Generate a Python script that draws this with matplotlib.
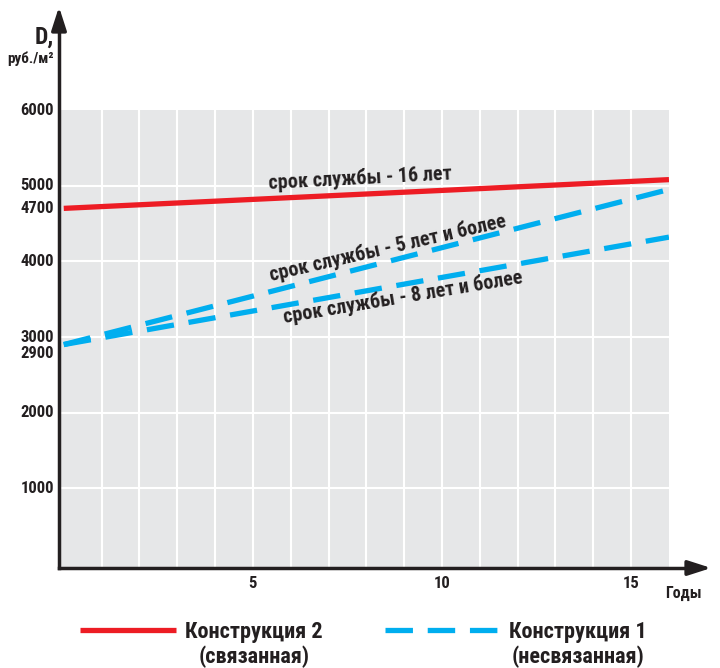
import matplotlib
matplotlib.use("Agg")
import matplotlib.pyplot as plt
import matplotlib.transforms as mtransforms
from matplotlib.lines import Line2D
from matplotlib import font_manager

available = set(f.name for f in font_manager.fontManager.ttflist)
candidates = ['Roboto Condensed', 'PT Sans Narrow', 'Fira Sans Condensed', 'Archivo Narrow',
              'IBM Plex Sans Condensed', 'Liberation Sans Narrow', 'Open Sans Condensed', 'Roboto']
chosen = [c for c in candidates if c in available]
FONT = chosen[0] if chosen else 'DejaVu Sans'
plt.rcParams['font.family'] = [FONT, 'DejaVu Sans']
plt.rcParams['font.weight'] = 'bold'

# Data
years = [0, 16]
construction2 = [4700, 5080]          # срок службы - 16 лет
construction1_5 = [2900, 4950]        # срок службы - 5 лет и более
construction1_8 = [2900, 4320]        # срок службы - 8 лет и более
y_ticks = [1000, 2000, 2900, 3000, 4000, 4700, 5000, 6000]
x_ticks = [5, 10, 15]

RED = '#ED1C24'
BLUE = '#00AEEF'
TXT = '#231F20'
BG = '#E6E7E8'

fig = plt.figure(figsize=(7.2, 6.68), dpi=100)
ax = fig.add_axes([0.0833, 0.1497, 0.8458, 0.6856])
ax.set_facecolor(BG)
ax.set_xlim(-0.1, 16)
ax.set_ylim(-53, 6000)

for x in range(1, 16):
    ax.axvline(x, color='white', lw=1.5, zorder=1)
for y in [1000, 2000, 3000, 4000, 5000]:
    ax.axhline(y, color='white', lw=1.5, zorder=1)

ax.plot(years, construction2, color=RED, lw=3.8, solid_capstyle='butt', zorder=3)
ax.plot(years, construction1_5, color=BLUE, lw=3.8, dashes=(5.2, 2.8), dash_capstyle='butt', zorder=3)
ax.plot(years, construction1_8, color=BLUE, lw=3.8, dashes=(5.2, 2.8), dash_capstyle='butt', zorder=3)

for s in ['top', 'right', 'left', 'bottom']:
    ax.spines[s].set_visible(False)

# y tick labels drawn by hand so that 2900 can sit a little below 3000, as in the reference
ax.set_yticks([])
ax.set_xticks(x_ticks)
ax.set_xticklabels([str(v) for v in x_ticks], fontsize=12, color=TXT, fontweight='bold')
ax.tick_params(length=0, pad=6)
for v in y_ticks:
    dy = -9 if v == 2900 else 0
    tr = mtransforms.offset_copy(ax.get_yaxis_transform(), fig=fig, x=-6, y=dy, units='dots')
    ax.text(0, v, str(v), transform=tr, ha='right', va='center', fontsize=12,
            color=TXT, fontweight='bold')

ax.text(5.41, 4960, 'срок службы - 16 лет', rotation=3, rotation_mode='anchor',
        fontsize=14.5, color=TXT, fontweight='bold', ha='left', va='baseline')
ax.text(5.47, 3737, 'срок службы - 5 лет и более', rotation=13, rotation_mode='anchor',
        fontsize=14.5, color=TXT, fontweight='bold', ha='left', va='baseline')
ax.text(5.83, 3184, 'срок службы - 8 лет и более', rotation=9.5, rotation_mode='anchor',
        fontsize=14.5, color=TXT, fontweight='bold', ha='left', va='baseline')

# Axes arrows in figure coords
W, H = 720, 668
def fx(px): return px / W
def fy(py): return 1 - py / H

fig.add_artist(Line2D([fx(59), fx(59)], [fy(568), fy(20)], color=TXT, lw=2.5))
fig.add_artist(Line2D([fx(59), fx(700)], [fy(568), fy(568)], color=TXT, lw=2.5))
ax.annotate('', xy=(fx(59), fy(4)), xytext=(fx(59), fy(30)), xycoords='figure fraction',
            textcoords='figure fraction',
            arrowprops=dict(arrowstyle='-|>,head_length=1.4,head_width=0.45', color=TXT, lw=2.5))
ax.annotate('', xy=(fx(714), fy(568)), xytext=(fx(690), fy(568)), xycoords='figure fraction',
            textcoords='figure fraction',
            arrowprops=dict(arrowstyle='-|>,head_length=1.4,head_width=0.45', color=TXT, lw=2.5))

fig.text(fx(54), fy(44), 'D,', fontsize=17, color=TXT, fontweight='bold', ha='right', va='baseline')
fig.text(fx(54), fy(63), 'руб./м²', fontsize=11, color=TXT, fontweight='bold', ha='right', va='baseline')
fig.text(fx(683), fy(598), 'Годы', fontsize=11.5, color=TXT, fontweight='bold', ha='center', va='baseline')

# Legend
fig.add_artist(Line2D([fx(80), fx(176)], [fy(630), fy(630)], color=RED, lw=3.8, solid_capstyle='butt'))
fig.add_artist(Line2D([fx(385), fx(497)], [fy(630), fy(630)], color=BLUE, lw=3.8,
                      dashes=(5.2, 2.8), dash_capstyle='butt'))
fig.text(fx(254), fy(638), 'Конструкция 2', fontsize=16, color=TXT, fontweight='bold', ha='center', va='baseline')
fig.text(fx(254), fy(663), '(связанная)', fontsize=16, color=TXT, fontweight='bold', ha='center', va='baseline')
fig.text(fx(578), fy(638), 'Конструкция 1', fontsize=16, color=TXT, fontweight='bold', ha='center', va='baseline')
fig.text(fx(578), fy(663), '(несвязанная)', fontsize=16, color=TXT, fontweight='bold', ha='center', va='baseline')

fig.savefig('out.png', dpi=100)
